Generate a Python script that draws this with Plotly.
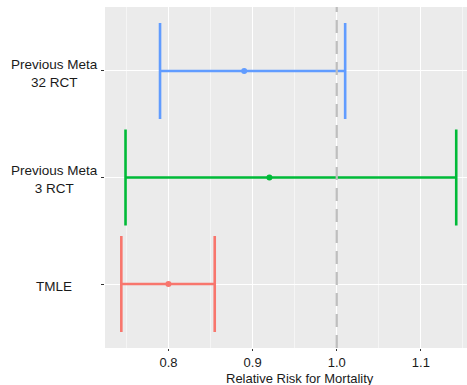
import plotly.graph_objects as go

labels = ["TMLE", "Previous Meta<br>3 RCT", "Previous Meta<br>32 RCT"]
estimates = [0.80, 0.92, 0.89]
lower = [0.744, 0.749, 0.790]
upper = [0.855, 1.142, 1.010]
colors = ["#F8766D", "#00BA38", "#619CFF"]
xticks = [0.8, 0.9, 1.0, 1.1]
xtick_text = ["0.8", "0.9", "1.0", "1.1"]
ref_value = 1.0

FONT = "Liberation Sans, Arial, Helvetica, sans-serif"

fig = go.Figure()
for i, (lab, est, lo, hi, col) in enumerate(zip(labels, estimates, lower, upper, colors)):
    fig.add_trace(go.Scatter(
        x=[est], y=[i + 1], mode="markers",
        marker=dict(color=col, size=6),
        error_x=dict(type="data", symmetric=False,
                     array=[hi - est], arrayminus=[est - lo],
                     color=col, thickness=2.6, width=48),
        showlegend=False, name=lab.replace("<br>", " "),
    ))

fig.add_vline(x=ref_value, line=dict(color="#BEBEBE", width=2.2, dash="13px,8px"))

for i, lab in enumerate(labels):
    fig.add_annotation(x=-0.14, xref="paper", y=i + 1 - 0.02, yref="y",
                       text=lab, showarrow=False, xanchor="center", yanchor="middle",
                       align="center", font=dict(family=FONT, size=13.5, color="#1a1a1a"))

fig.add_annotation(x=0.539, xref="paper", y=-0.088, yref="paper",
                   text="Relative Risk for Mortality", showarrow=False,
                   xanchor="center", yanchor="middle",
                   font=dict(family=FONT, size=13, color="#1a1a1a"))

fig.update_layout(
    width=467, height=385,
    margin=dict(l=105, r=0, t=7, b=37),
    paper_bgcolor="white", plot_bgcolor="#EBEBEB",
    font=dict(family=FONT, size=13, color="#1a1a1a"),
)
fig.update_xaxes(range=[0.7246, 1.1548], tickvals=xticks, ticktext=xtick_text,
                 showgrid=True, gridcolor="white", gridwidth=1.2,
                 minor=dict(dtick=0.05, tick0=0.75, showgrid=True, gridcolor="#F5F5F5", gridwidth=0.6),
                 ticks="outside", ticklen=2, tickcolor="#333333", tickwidth=1,
                 zeroline=False, showline=False,
                 tickfont=dict(family=FONT, size=13, color="#1a1a1a"))
fig.update_yaxes(range=[0.4, 3.6], tickvals=[1, 2, 3], ticktext=["", "", ""],
                 showgrid=True, gridcolor="white", gridwidth=1.2,
                 ticks="outside", ticklen=3, tickcolor="#333333", tickwidth=1,
                 zeroline=False, showline=False)

fig.write_html("out.html", config={"displayModeBar": False},
               post_script="document.body.style.margin='0px';")
